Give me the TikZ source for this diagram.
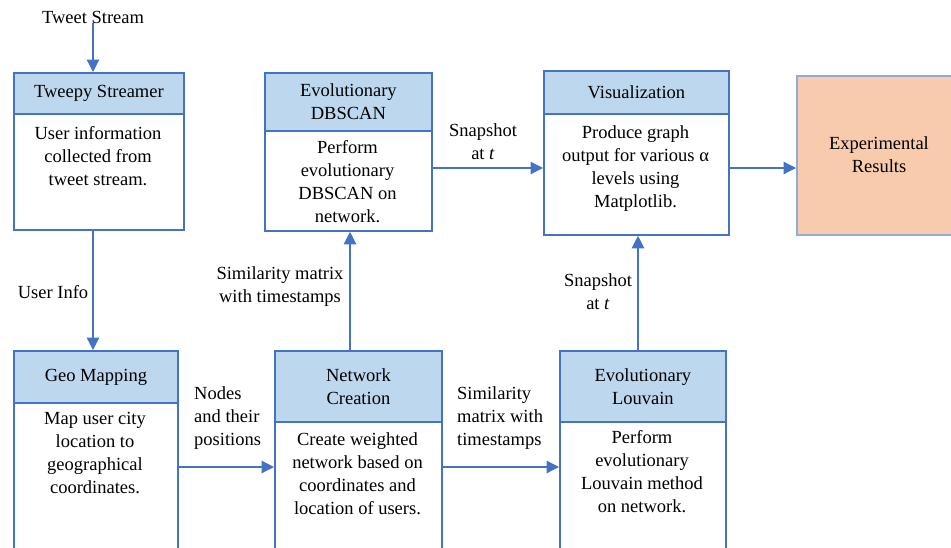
\documentclass[tikz,border=0pt]{standalone}
\usepackage{fontspec}
\setmainfont{Liberation Serif}
\usetikzlibrary{arrows.meta}
\definecolor{bblue}{HTML}{4472C4}
\definecolor{hfill}{HTML}{BDD7EE}
\definecolor{efill}{HTML}{F8CBAD}
\definecolor{eborder}{HTML}{8FAADC}
\begin{document}
\begin{tikzpicture}[x=1pt,y=-1pt,
  every node/.style={font=\fontsize{18.5}{23}\selectfont},
  hdr/.style={draw=bblue, fill=hfill, line width=1.8pt, rectangle, inner sep=0pt, anchor=north west, align=center},
  bodybox/.style={draw=bblue, line width=1.8pt, rectangle, inner sep=0pt, anchor=north west},
  txt/.style={inner sep=0pt, align=center, anchor=north},
  lbl/.style={inner sep=0pt, align=center},
  lbll/.style={inner sep=0pt, align=left, anchor=north west},
  arr/.style={draw=bblue, line width=1.2pt, -{Triangle[length=12.5pt,width=12.5pt]}}]
\clip (0,0) rectangle (951,547);
\fill[white] (0,0) rectangle (951,547);
% Tweepy Streamer
\node[bodybox, minimum width=170pt, minimum height=116pt] (twb) at (13,113) {};
\node[hdr, minimum width=170pt, minimum height=41pt] (twh) at (13,72) {Tweepy Streamer};
\node[txt] (twt) at (98,126) {User information\\collected from\\tweet stream.};
% Evolutionary DBSCAN
\node[bodybox, minimum width=167pt, minimum height=100pt] (dbb) at (264,130) {};
\node[hdr, minimum width=167pt, minimum height=58pt] (dbh) at (264,72) {Evolutionary\\DBSCAN};
\node[txt] (dbt) at (347.5,140) {Perform\\evolutionary\\DBSCAN on\\network.};
% Visualization
\node[bodybox, minimum width=185pt, minimum height=121pt] (visb) at (543,113) {};
\node[hdr, minimum width=185pt, minimum height=43pt] (vish) at (543,70) {Visualization};
\node[txt] (vist) at (635.5,125) {Produce graph\\output for various α\\levels using\\Matplotlib.};
% Experimental Results
\node[draw=eborder, fill=efill, line width=2.2pt, rectangle, inner sep=0pt, anchor=north west, align=center, minimum width=160pt, minimum height=159pt] (exp) at (796,75) {};
\node[lbl] (expt) at (879,155) {Experimental\\Results};
% Geo Mapping
\node[bodybox, minimum width=164pt, minimum height=160pt] (geob) at (13,402) {};
\node[hdr, minimum width=164pt, minimum height=52pt] (geoh) at (13,350) {Geo Mapping};
\node[txt] (geot) at (95,412) {Map user city\\location to\\geographical\\coordinates.};
% Network Creation
\node[bodybox, minimum width=167pt, minimum height=140pt] (netb) at (274,421) {};
\node[hdr, minimum width=167pt, minimum height=71pt] (neth) at (274,350) {Network\\Creation};
\node[txt] (nett) at (357.5,432) {Create weighted\\network based on\\coordinates and\\location of users.};
% Evolutionary Louvain
\node[bodybox, minimum width=166pt, minimum height=140pt] (loub) at (559,421) {};
\node[hdr, minimum width=166pt, minimum height=71pt] (louh) at (559,350) {Evolutionary\\Louvain};
\node[txt] (lout) at (642,430) {Perform\\evolutionary\\Louvain method\\on network.};
% Labels
\node[lbl] (tws) at (93,17) {Tweet Stream};
\node[lbl] (uinfo) at (53,292) {User Info};
\node[lbl] (snap1) at (483,142) {Snapshot\\at \textit{t}};
\node[lbl] (sim1) at (280,287) {Similarity matrix\\with timestamps};
\node[lbl] (snap2) at (598,292) {Snapshot\\at \textit{t}};
\node[lbll] (nodes) at (194,386) {Nodes\\and their\\positions};
\node[lbll] (sim2) at (457,386) {Similarity\\matrix with\\timestamps};
% Connectors
\draw[arr] (tws.south -| 93,0) -- (twh.north -| 93,0);
\draw[arr] (twb.south -| 93,0) -- (geoh.north -| 93,0);
\draw[arr] (dbb.east |- 0,168) -- (visb.west |- 0,168);
\draw[arr] (visb.east |- 0,168) -- (exp.west |- 0,168);
\draw[arr] (neth.north -| 350,0) -- (dbb.south -| 350,0);
\draw[arr] (louh.north -| 638,0) -- (visb.south -| 638,0);
\draw[arr] (geob.east |- 0,467) -- (netb.west |- 0,467);
\draw[arr] (netb.east |- 0,467) -- (loub.west |- 0,467);
\end{tikzpicture}
\end{document}
